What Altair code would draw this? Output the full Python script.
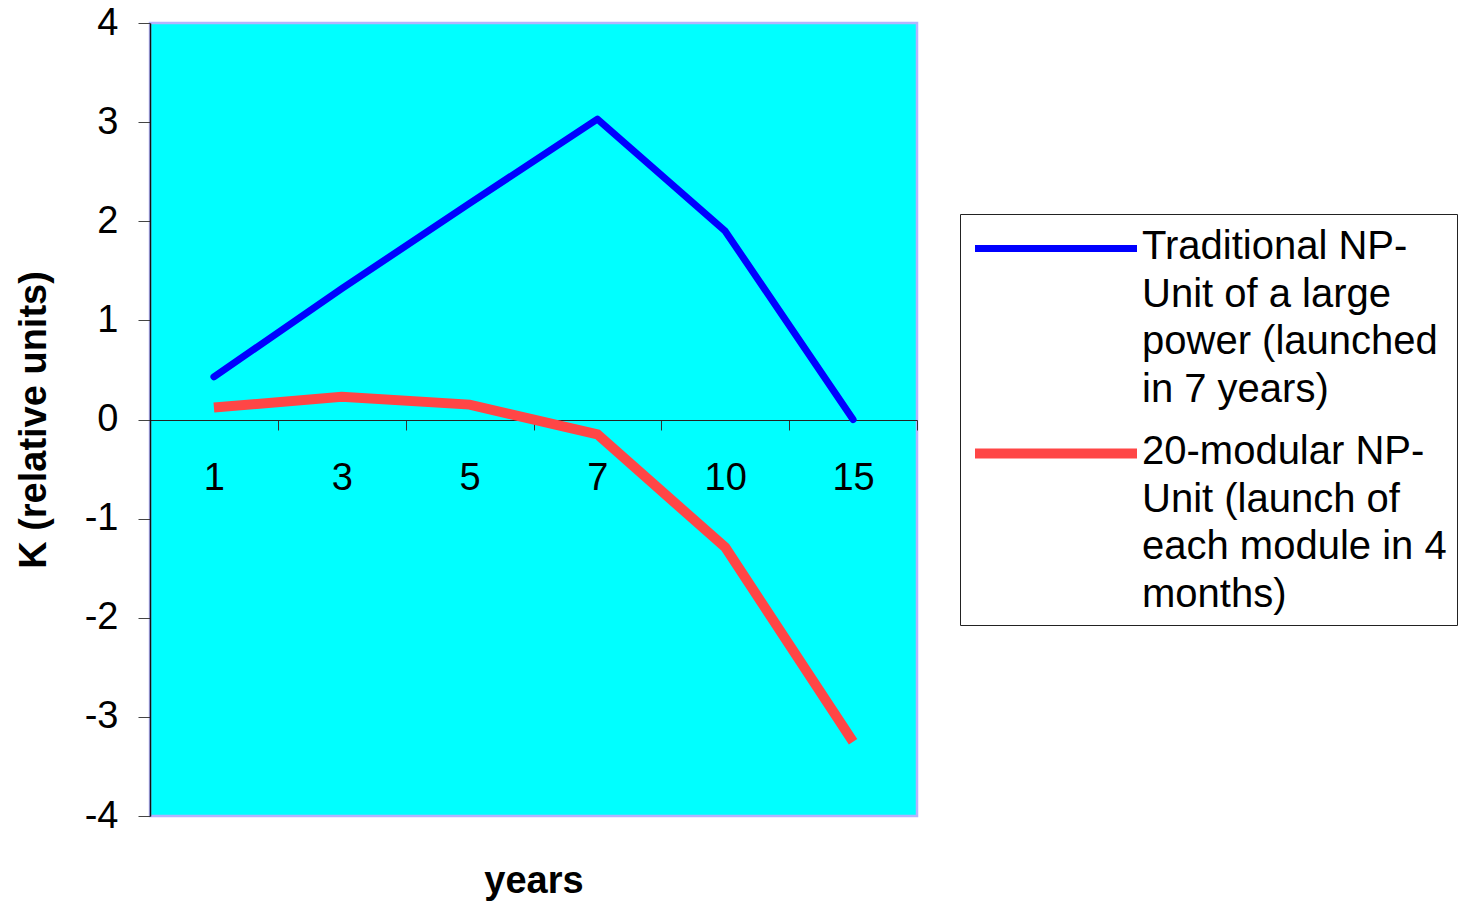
import altair as alt
import pandas as pd

# ---- data ----
years = ["1", "3", "5", "7", "10", "15"]
traditional = [0.43, 1.32, 2.18, 3.03, 1.90, 0.0]
modular = [0.12, 0.23, 0.15, -0.15, -1.29, -3.25]
series_lines = [
    ["Traditional NP-", "Unit of a large", "power (launched", "in 7 years)"],
    ["20-modular NP-", "Unit (launch of", "each module in 4", "months)"],
]
y_ticks = [-4, -3, -2, -1, 0, 1, 2, 3, 4]

series_names = ["\n".join(lines) for lines in series_lines]

rows = []
for name, vals in zip(series_names, [traditional, modular]):
    for i, (yr, v) in enumerate(zip(years, vals)):
        rows.append({"year": yr, "K": v, "series": name, "order": i})
df = pd.DataFrame(rows)

FONT = "Liberation Sans"
LABEL_DY = -17  # shared guide-label vertical shift (compensated on axes)

color_scale = alt.Scale(domain=series_names, range=["#0000ff", "#ff4646"])
width_scale = alt.Scale(type="ordinal", domain=series_names, range=[7, 10])

legend = alt.Legend(
    title=None,
    orient="none",
    legendX=810,
    legendY=191,
    symbolType="M-8.1,0.45L8.1,0.45",
    symbolSize=400,
    symbolOffset=66,
    labelExpr="split(datum.label, '\\n')",
    labelFont=FONT,
    labelFontSize=40,
    labelColor="black",
    labelBaseline="top",
    labelLimit=600,
    labelOffset=66,
    padding=10,
    rowPadding=19,
    fillColor="white",
    strokeColor="#222222",
)

base = alt.Chart(df).encode(
    x=alt.X(
        "year:N",
        sort=years,
        bandPosition=0.5,
        scale=alt.Scale(type="band", paddingInner=0, paddingOuter=0),
        axis=alt.Axis(
            title="years",
            titleFont=FONT,
            titleFontSize=38,
            titleFontWeight="bold",
            titleColor="black",
            titleY=442,
            titleBaseline="top",
            labelAngle=0,
            labelFont=FONT,
            labelFontSize=38,
            labelColor="black",
            labelPadding=29 - LABEL_DY,
            tickBand="extent",
            tickSize=10,
            tickColor="#333333",
            domainColor="#222222",
            domainWidth=1,
            offset=-396,
            grid=False,
        ),
    ),
    y=alt.Y(
        "K:Q",
        scale=alt.Scale(domain=[-4, 4], nice=False, zero=False),
        axis=alt.Axis(
            title="K (relative units)",
            titleFont=FONT,
            titleFontSize=38,
            titleFontWeight="bold",
            titleColor="black",
            titleX=-105,
            titleBaseline="alphabetic",
            values=y_ticks,
            labelExpr="'' + datum.value",
            labelFont=FONT,
            labelFontSize=38,
            labelColor="black",
            labelPadding=20,
            labelOffset=-LABEL_DY,
            tickSize=12,
            tickColor="#444444",
            domainColor="#111111",
            domainWidth=1.5,
            grid=False,
        ),
    ),
    color=alt.Color("series:N", scale=color_scale, legend=legend),
    strokeWidth=alt.StrokeWidth("series:N", scale=width_scale, legend=legend),
    order="order:Q",
)

blue = base.transform_filter(alt.datum.series == series_names[0]).mark_line(
    strokeCap="round", strokeJoin="round"
)
red = base.transform_filter(alt.datum.series == series_names[1]).mark_line(
    strokeCap="butt", strokeJoin="miter"
)

chart = (
    alt.layer(blue, red)
    .properties(
        width=767,
        height=793,
        autosize=alt.AutoSizeParams(type="none"),
        padding={"left": 150, "top": 23, "right": 565, "bottom": 85},
        background="white",
    )
    .configure(
        font=FONT,
        view=alt.ViewConfig(fill="#00ffff", stroke="#b4b4ff", strokeWidth=2.5),
        style={"guide-label": {"lineHeight": 47.5, "dy": LABEL_DY}},
    )
)

chart.save("out.html", embed_options={"renderer": "svg", "actions": False})
